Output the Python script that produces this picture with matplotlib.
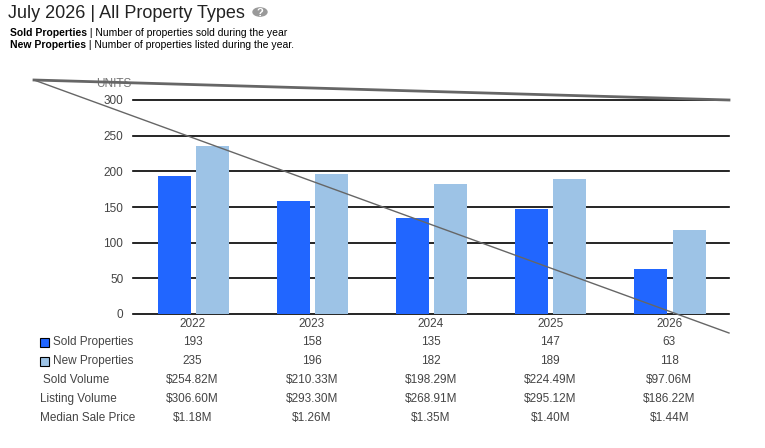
import matplotlib
matplotlib.use('Agg')
import matplotlib.pyplot as plt
from matplotlib.lines import Line2D
from matplotlib.patches import Circle, Rectangle
import numpy as np

plt.rcParams['font.family'] = ['Liberation Sans', 'DejaVu Sans']

years = ['2022', '2023', '2024', '2025', '2026']
sold = [193, 158, 135, 147, 63]
new = [235, 196, 182, 189, 118]
sold_volume = ['$254.82M', '$210.33M', '$198.29M', '$224.49M', '$97.06M']
listing_volume = ['$306.60M', '$293.30M', '$268.91M', '$295.12M', '$186.22M']
median_price = ['$1.18M', '$1.26M', '$1.35M', '$1.40M', '$1.44M']

SOLD_COLOR = '#2166ff'
NEW_COLOR = '#9dc3e6'
TXT = '#444444'
W, H = 765, 448


def fx(px):
    return px / W


def fy(py):
    return 1 - py / H


fig = plt.figure(figsize=(7.65, 4.48), dpi=100)
ax = fig.add_axes([fx(133), fy(314), fx(729) - fx(133), fy(100) - fy(314)])

x = np.arange(len(years))
bw = 0.277
ax.bar(x - 0.155, sold, bw, color=SOLD_COLOR, zorder=3)
ax.bar(x + 0.165, new, bw, color=NEW_COLOR, zorder=3)

ax.set_xlim(-0.5, len(years) - 0.5)
ax.set_ylim(0, 300)
ax.set_yticks(range(0, 301, 50))
ax.yaxis.grid(True, color='black', linewidth=1.2, zorder=1)
for gl in ax.get_ygridlines():
    gl.set_clip_on(False)
ax.tick_params(axis='y', length=0, labelsize=8.5, labelcolor=TXT, pad=7)
ax.set_xticks([])
for s in ax.spines.values():
    s.set_visible(False)
fig.text(fx(96), fy(84), 'UNITS', fontsize=8.5, color='#777777', va='center')

# table below the chart
row_y = [342, 361, 380, 399, 418]
rows = [sold, new, sold_volume, listing_volume, median_price]
for i, yr in enumerate(years):
    cx = ax.transData.transform((i, 0))[0] / W
    fig.text(cx, fy(324), yr, fontsize=8.5, color=TXT, ha='center', va='center')
    for ry, vals in zip(row_y, rows):
        fig.text(cx, fy(ry), str(vals[i]), fontsize=8.5, color=TXT, ha='center', va='center')

fig.add_artist(Rectangle((fx(40), fy(347)), fx(9), 9 / H, facecolor=SOLD_COLOR,
                         edgecolor='black', linewidth=0.8, transform=fig.transFigure))
fig.add_artist(Rectangle((fx(40), fy(366)), fx(9), 9 / H, facecolor=NEW_COLOR,
                         edgecolor='black', linewidth=0.8, transform=fig.transFigure))
fig.text(fx(53), fy(row_y[0]), 'Sold Properties', fontsize=8.5, color=TXT, va='center')
fig.text(fx(53), fy(row_y[1]), 'New Properties', fontsize=8.5, color=TXT, va='center')
fig.text(fx(43), fy(row_y[2]), 'Sold Volume', fontsize=8.5, color=TXT, va='center')
fig.text(fx(40), fy(row_y[3]), 'Listing Volume', fontsize=8.5, color=TXT, va='center')
fig.text(fx(40), fy(row_y[4]), 'Median Sale Price', fontsize=8.5, color=TXT, va='center')

# title and subtitles
fig.text(fx(8), fy(13), 'July 2026 | All Property Types', fontsize=13, color='#222222', va='center')
fig.add_artist(Circle((fx(260), fy(12)), 7 / W, color='#999999', transform=fig.transFigure))
fig.text(fx(260), fy(12.5), '?', fontsize=8, color='white', fontweight='bold', ha='center', va='center')

subtitles = [('Sold Properties', ' | Number of properties sold during the year', 36),
             ('New Properties', ' | Number of properties listed during the year.', 48)]
for bold, rest, py in subtitles:
    b = fig.text(fx(10), fy(py), bold, fontsize=7.5, fontweight='bold', color='black', va='baseline')
    ax.annotate(rest, xy=(1, 0), xycoords=b, fontsize=7.5, color='black',
                va='bottom', ha='left', annotation_clip=False)

# overlaid stroke lines
fig.add_artist(Line2D([fx(34), fx(729)], [fy(80), fy(100)], color='#666666', linewidth=2,
                      transform=fig.transFigure, zorder=5))
fig.add_artist(Line2D([fx(34), fx(729)], [fy(80), fy(333)], color='#666666', linewidth=1,
                      transform=fig.transFigure, zorder=5))

fig.savefig('out.png', dpi=100)
